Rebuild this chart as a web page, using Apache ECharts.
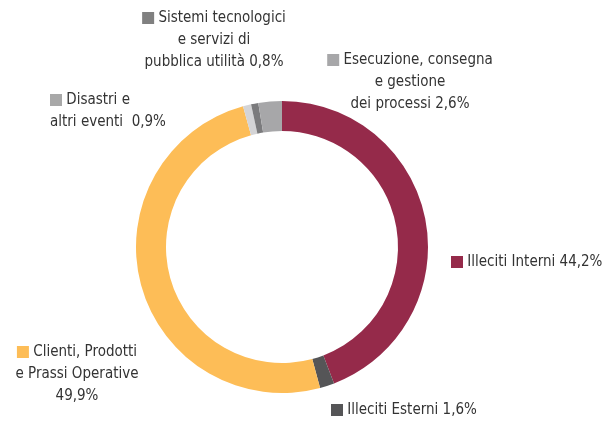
<!DOCTYPE html>
<html>
<head>
<meta charset="utf-8">
<script src="https://cdn.jsdelivr.net/npm/echarts@6/dist/echarts.min.js"></script>
<style>
  html, body { margin: 0; padding: 0; background: #fff; }
  #box { width: 613px; height: 422px; }
</style>
</head>
<body>
<div id="box"></div>
<script>
var chart = echarts.init(document.getElementById('box'));

// categories, clockwise from 12 o'clock
var categories = [
  'Illeciti Interni',
  'Illeciti Esterni',
  'Clienti, Prodotti\ne Prassi Operative\n',
  'Disastri e\naltri eventi ',
  'Sistemi tecnologici\ne servizi di\npubblica utilità',
  'Esecuzione, consegna\ne gestione\ndei processi'
];
var values = [44.2, 1.6, 49.9, 0.9, 0.8, 2.6];
var colors = ['#952a4a', '#555557', '#fdbd57', '#d4d4d6', '#7b7b7d', '#a7a7a9'];
var markerColors = ['#952a4a', '#555557', '#fdbd57', '#a8a8a8', '#808080', '#a7a7a9'];

// label anchor points (x, centre y of first line, alignment)
var labelPos = [
  { x: 451, y: 262, align: 'left' },
  { x: 331, y: 410, align: 'left' },
  { x: 77, y: 352, align: 'center' },
  { x: 50, y: 100, align: 'left' },
  { x: 214, y: 18, align: 'center' },
  { x: 410, y: 60, align: 'center' }
];

var data = values.map(function(v, i) {
  return { name: categories[i], value: v, itemStyle: { color: colors[i] } };
});

function pct(v) {
  return v.toFixed(1).replace('.', ',') + '%';
}

var option = {
  animation: false,
  textStyle: { fontFamily: '"Liberation Sans Narrow", "DejaVu Sans Condensed", sans-serif' },
  series: [{
    type: 'pie',
    center: [282, 247],
    radius: [116, 146],
    startAngle: 90,
    clockwise: true,
    avoidLabelOverlap: false,
    labelLine: { show: false },
    emphasis: { disabled: true },
    data: data,
    label: {
      show: true,
      position: 'outside',
      color: '#333333',
      fontSize: 15,
      lineHeight: 22,
      formatter: function(p) {
        var name = p.name;
        var txt = name + (name.slice(-1) === '\n' ? '' : ' ') + pct(p.value);
        var lines = txt.split('\n');
        lines[0] = '{sq' + p.dataIndex + '|} ' + lines[0];
        return lines.join('\n');
      },
      rich: (function() {
        var r = {};
        markerColors.forEach(function(c, i) {
          r['sq' + i] = { width: 12, height: 12, backgroundColor: c };
        });
        return r;
      })()
    },
    labelLayout: function(params) {
      var p = labelPos[params.dataIndex];
      return {
        x: p.x,
        y: p.y - 11,
        align: p.align,
        verticalAlign: 'top'
      };
    }
  }]
};

chart.setOption(option);
</script>
</body>
</html>
